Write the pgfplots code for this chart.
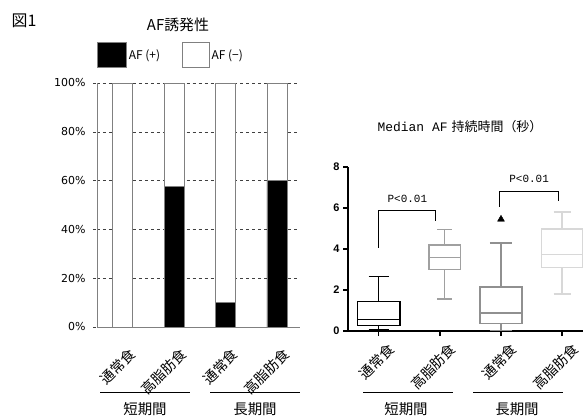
\documentclass[border=0pt]{standalone}
\usepackage{pgfplots}
\pgfplotsset{compat=1.18}
\usepgfplotslibrary{statistics}
\usepackage{fontspec}
\setmainfont{DejaVu Sans}
\newfontfamily\cjk{Noto Sans CJK JP}
\newfontfamily\lib{Liberation Sans}
\setmonofont{Liberation Mono}
\definecolor{gA}{HTML}{A0A0A0}
\definecolor{gB}{HTML}{909090}
\definecolor{gC}{HTML}{D8D8D8}
\definecolor{bo}{HTML}{808080}
\begin{document}
\begin{tikzpicture}
\path[use as bounding box] (0,0) rectangle (583bp,-417bp);
\node[font=\cjk\fontsize{16}{16}\selectfont] at (24bp,-21bp) {図1};
\node[font=\cjk\fontsize{15}{15}\selectfont] at (178bp,-25bp) {AF誘発性};

\begin{axis}[
 at={(97bp,-327bp)}, anchor=south west, scale only axis,
 width=203bp, height=244bp,
 xmin=-0.5, xmax=3.45, ymin=0, ymax=100,
 axis x line=bottom, axis y line=left,
 axis line style={-, bo, line width=0.8bp},
 ybar stacked, bar width=20bp,
 xtick={0,1,2,3},
 xticklabels={通常食,高脂肪食,通常食,高脂肪食},
 xticklabel style={font=\cjk\fontsize{14}{14}\selectfont, rotate=45, anchor=east, xshift=-4.5bp, yshift=-21.5bp},
 xtick style={draw=none},
 ytick={0,20,40,60,80,100},
 yticklabel={\pgfmathprintnumber{\tick}\%},
 yticklabel style={font=\fontsize{11}{11}\selectfont, xshift=-4bp},
 /pgf/number format/assume math mode=true,
 ymajorgrids, grid style={dashed, black!75, line width=0.6bp},
 ytick style={dashed, black!75, line width=0.6bp},
 tick align=outside, major tick length=4bp,
 legend columns=2,
 legend style={at={(0,1.17)}, anchor=north west, draw=none, inner sep=0pt,
   font=\cjk\fontsize{12}{12}\selectfont,
   /tikz/every even column/.append style={column sep=20bp}},
]
\addplot+[fill=black, draw=bo, line width=0.6bp,
  legend image code/.code={\draw[fill=black, draw=bo] (0bp,-12bp) rectangle (29bp,13bp);}]
  coordinates {(0,0) (1,57.5) (2,10.2) (3,60)};
\addplot+[fill=white, draw=bo, line width=0.6bp,
  legend image code/.code={\draw[fill=white, draw=bo] (0bp,-12bp) rectangle (27bp,13bp);}]
  coordinates {(0,100) (1,42.5) (2,89.8) (3,40)};
\legend{AF (+),AF (−)}
\end{axis}

\node[font=\fontsize{13}{13}\selectfont] at (460bp,-127bp) {\texttt{Median AF} {\cjk 持続時間（秒）}};

\begin{axis}[
 at={(348bp,-331bp)}, anchor=south west, scale only axis,
 width=235bp, height=164bp,
 xmin=-0.5, xmax=3.34, ymin=0, ymax=8,
 axis lines=left,
 axis line style={-, black, line width=1.5bp},
 tick style={black, line width=1.5bp},
 tick align=outside, major tick length=5bp,
 ytick={0,2,4,6,8},
 yticklabel style={font=\lib\bfseries\fontsize{11}{11}\selectfont},
 /pgf/number format/assume math mode=true,
 xtick={0,1,2,3},
 xticklabels={通常食,高脂肪食,通常食,高脂肪食},
 xticklabel style={font=\cjk\fontsize{14}{14}\selectfont, rotate=45, anchor=east, xshift=5bp, yshift=-17bp},
 boxplot/draw direction=y,
]
\addplot+[boxplot prepared={draw position=0, median=0.57, upper quartile=1.43, lower quartile=0.26, upper whisker=2.65, lower whisker=0.05, box extend=0.69, whisker extend=0.33}, draw=black, solid, line width=1.6bp, mark=none] coordinates {};
\addplot+[boxplot prepared={draw position=1.08, median=3.58, upper quartile=4.2, lower quartile=3.0, upper whisker=4.96, lower whisker=1.55, box extend=0.52, whisker extend=0.25}, draw=gA, solid, line width=1.6bp, mark=none] coordinates {};
\addplot+[boxplot prepared={draw position=2, median=0.89, upper quartile=2.16, lower quartile=0.37, upper whisker=4.3, lower whisker=0.03, box extend=0.69, whisker extend=0.36}, draw=gB, solid, line width=1.6bp, mark=none] coordinates {};
\addplot+[boxplot prepared={draw position=3, median=3.74, upper quartile=4.97, lower quartile=3.1, upper whisker=5.8, lower whisker=1.8, box extend=0.68, whisker extend=0.28}, draw=gC, solid, line width=1.6bp, mark=none] coordinates {};
\addplot[only marks, mark=triangle*, mark size=4bp, black] coordinates {(2.0,5.45)};
\addplot[black, line width=0.6bp, mark=none] coordinates {(0,4.05) (0,5.9) (0.93,5.9) (0.93,5.35)};
\addplot[black, line width=0.6bp, mark=none] coordinates {(1.98,6.05) (1.98,6.83) (2.93,6.83) (2.93,6.35)};
\node[font=\ttfamily\fontsize{11}{11}\selectfont] at (axis cs:0.47,6.45) {P<0.01};
\node[font=\ttfamily\fontsize{11}{11}\selectfont] at (axis cs:2.46,7.4) {P<0.01};
\end{axis}

\draw[line width=0.7bp] (100bp,-392bp) -- (190bp,-392bp);
\draw[line width=0.7bp] (210bp,-392bp) -- (300bp,-392bp);
\draw[line width=0.7bp] (363bp,-392bp) -- (453bp,-392bp);
\draw[line width=0.7bp] (473bp,-392bp) -- (563bp,-392bp);
\node[font=\cjk\fontsize{14.5}{14.5}\selectfont] at (145bp,-409bp) {短期間};
\node[font=\cjk\fontsize{14.5}{14.5}\selectfont] at (255bp,-409bp) {長期間};
\node[font=\cjk\fontsize{14.5}{14.5}\selectfont] at (406bp,-409bp) {短期間};
\node[font=\cjk\fontsize{14.5}{14.5}\selectfont] at (517bp,-409bp) {長期間};
\end{tikzpicture}
\end{document}
